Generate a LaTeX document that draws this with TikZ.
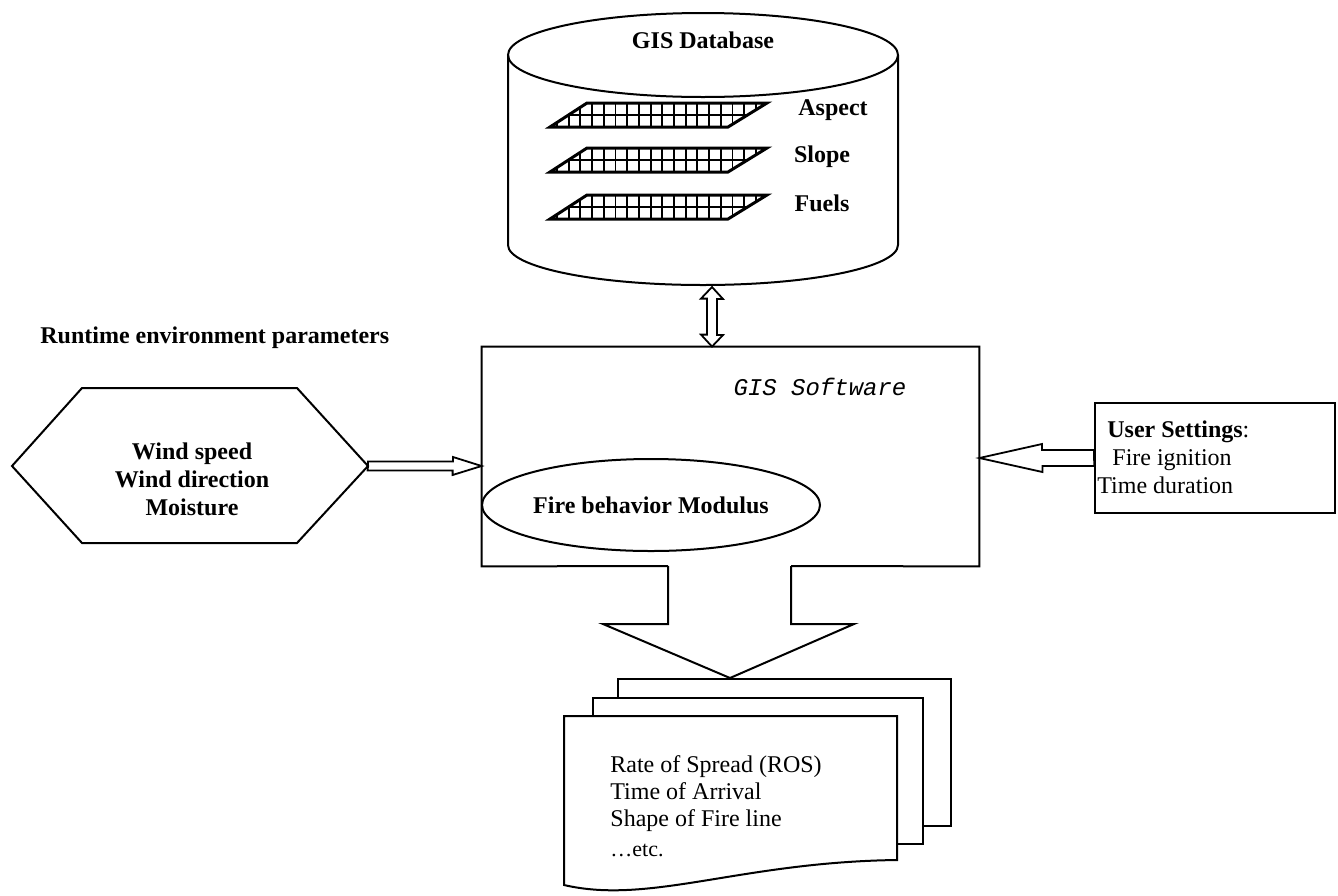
\documentclass[tikz,border=0pt]{standalone}
\usepackage{fontspec}
\setmainfont{Liberation Serif}
\setmonofont{Liberation Mono}
\usetikzlibrary{shapes.geometric,calc}
\tikzset{
  ln/.style={line width=1pt, draw=black},
  lbl/.style={font=\fontsize{12}{14}\selectfont\bfseries, inner sep=0pt},
  txt/.style={font=\fontsize{12}{14}\selectfont, inner sep=0pt},
  gridline/.style={line width=0.95pt},
  gridedge/.style={line width=1.5pt},
}
\begin{document}
\begin{tikzpicture}[x=0.5pt,y=0.5pt]
\useasboundingbox (0,0) rectangle (1338,-895);
\fill[white] (0,0) rectangle (1338,-895);

% ---- GIS Database cylinder
\coordinate (dbtop) at (703,-55);
\draw[ln] (508,-55) -- (508,-245) arc[start angle=180,end angle=360,x radius=97.5pt,y radius=20pt] -- (898,-55);
\draw[ln] (dbtop) ellipse [x radius=97.5pt, y radius=21pt];
\node[lbl] (dbl) at (703,-40) {GIS Database};
\coordinate (dbbot) at (712,-287);

% grids
\foreach \t in {103,148,195}{
  \pgfmathsetmacro{\b}{\t+24}
  \pgfmathsetmacro{\m}{\t+12}
  \begin{scope}
    \clip (550,-\b) -- (728,-\b) -- (767,-\t) -- (587,-\t) -- cycle;
    \foreach \x in {0,...,19}{
      \draw[gridline] ({557+11.7*\x},-\t) -- ({557+11.7*\x},-\b);
    }
    \draw[gridline] (540,-\m) -- (780,-\m);
  \end{scope}
  \draw[gridedge] (550,-\b) -- (728,-\b) -- (767,-\t) -- (587,-\t) -- cycle;
}
\node[lbl] (asp) at (833,-110) {Aspect};
\node[lbl] (slo) at (822,-157) {Slope};
\node[lbl] (fue) at (822,-203) {Fuels};

% ---- GIS Software box
\node[minimum width=248.5pt, minimum height=109.5pt, inner sep=0pt] (gis) at (730.5,-456.5) {};
\draw[ln] (668,-566) -- (gis.south west) -- (gis.north west) -- (gis.north east) -- (gis.south east) -- (791,-566);
\node[font=\fontsize{12}{14}\selectfont\ttfamily\itshape, inner sep=0pt] (gist) at (820,-387) {GIS Software};
\node[ellipse, ln, minimum width=169pt, minimum height=46pt, inner sep=0pt] (fbm) at (651,-505) {};
\node[lbl] at (fbm) {Fire behavior Modulus};

% double arrow db <-> gis
\draw[ln, line width=0.9pt] (dbbot) -- ++(11,-12) -- ++(-6,0) -- ++(0,-36) -- ++(6,0) -- (dbbot |- gis.north) -- ++(-11,12) -- ++(6,0) -- ++(0,36) -- ++(-6,0) -- cycle;

% ---- Runtime parameters
\node[lbl, anchor=west] (rt) at (40,-338) {Runtime environment parameters};
\node[minimum width=178pt, minimum height=77.5pt, inner sep=0pt] (hex) at (190,-465.5) {};
\draw[ln] (12,-466) -- (82,-388) -- (297,-388) -- (368,-466) -- (297,-543) -- (82,-543) -- cycle;
\node[lbl, align=center] (hext) at (192,-479) {Wind speed\\Wind direction\\Moisture};
\coordinate (hexe) at (368,-466);
\coordinate (gisw) at (gis.west |- hexe);
\draw[ln, line width=0.9pt] (hexe) -- ++(0,4.5) -- ++(85,0) -- ++(0,4.5) -- (gisw) -- ++(-29,-9) -- ++(0,4.5) -- ++(-85,0) -- cycle;

% ---- User settings
\node[ln, minimum width=120pt, minimum height=55pt, inner sep=0pt] (user) at (1215,-458) {};
\node[txt, align=left, anchor=west] (usert) at (1097,-457.5) {\hspace*{5pt}\textbf{User Settings}:\\\hspace*{7.5pt}Fire ignition\\Time duration};
\coordinate (gise) at (gis.east |- user.west);
\draw[ln, line width=0.9pt] (user.west) -- ++(0,8) -- ++(-52,0) -- ++(0,6) -- (gise) -- ++(63,-14) -- ++(0,6) -- ++(52,0) -- cycle;

% ---- Documents
\node[ln, fill=white, minimum width=166.5pt, minimum height=73.5pt, inner sep=0pt, anchor=north west] (doc3) at (617,-678) {};
\node[ln, fill=white, minimum width=165pt, minimum height=73pt, inner sep=0pt, anchor=north west] (doc2) at (592,-697) {};
\coordinate (doc1) at (564,-716);
\draw[ln, fill=white] (doc1) -- (897,-716) -- (897,-860) .. controls (740,-862) and (650,-905) .. (564,-885) -- cycle;
\node[txt, align=left, anchor=north west, font=\fontsize{12}{13.6}\selectfont] (doct) at (610,-755) {Rate of Spread (ROS)\\Time of Arrival\\Shape of Fire line\\[1.5pt]{\fontsize{11}{12}\selectfont \ldots etc.}};

% output arrow from gis to documents
\coordinate (tipx) at (730,0);
\draw[ln, fill=white] (668,-566) -- (668,-624) -- (603,-624) -- (doc3.north -| tipx) -- (854,-624) -- (791,-624) -- (791,-566);
\end{tikzpicture}
\end{document}
